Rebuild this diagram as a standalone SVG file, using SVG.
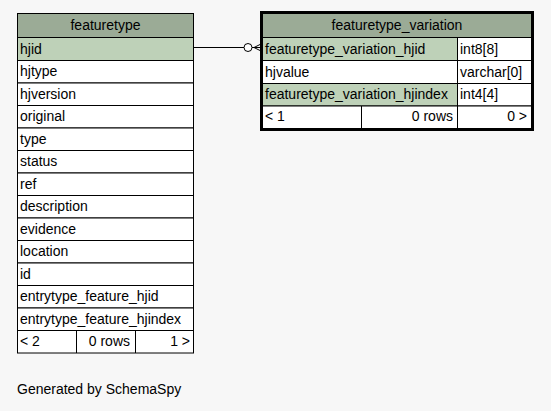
<svg xmlns="http://www.w3.org/2000/svg" width="551" height="411" viewBox="0 0 551 411">
<style>
text{font-family:"Liberation Sans",Arial,sans-serif;font-size:14px;fill:#000}
.c{text-anchor:middle}
.r{text-anchor:end}
.h{fill:#9bab96;stroke:#000;stroke-width:1}
.k{fill:#bed1b8;stroke:#000;stroke-width:1}
.w{fill:#fff;stroke:#000;stroke-width:1}
.ln{stroke:#000;stroke-width:1;fill:none}
</style>
<rect width="551" height="411" fill="#f7f7f7"/>
<g id="connectors">
<line class="ln" x1="193" y1="47.5" x2="244" y2="47.5"/>
<circle cx="248" cy="47.5" r="4" fill="#fff" stroke="#000" stroke-width="1"/>
<path class="ln" d="M252 47.5 L262 47.5 M254 47.5 L262 43.5 M254 47.5 L262 51.5"/>
</g>
<g id="featuretype">
<rect class="h" x="17.5" y="13.5" width="176" height="24"/>
<text class="c" x="105.5" y="30">featuretype</text>
<rect class="k" x="17.5" y="37.5" width="176" height="23"/>
<text x="20" y="53.5">hjid</text>
<rect class="w" x="17.5" y="60.5" width="176" height="22.5"/>
<text x="20" y="76">hjtype</text>
<rect class="w" x="17.5" y="83" width="176" height="22.5"/>
<text x="20" y="98.5">hjversion</text>
<rect class="w" x="17.5" y="105.5" width="176" height="22.5"/>
<text x="20" y="121">original</text>
<rect class="w" x="17.5" y="128" width="176" height="22.5"/>
<text x="20" y="143.5">type</text>
<rect class="w" x="17.5" y="150.5" width="176" height="22.5"/>
<text x="20" y="166">status</text>
<rect class="w" x="17.5" y="173" width="176" height="22.5"/>
<text x="20" y="188.5">ref</text>
<rect class="w" x="17.5" y="195.5" width="176" height="22.5"/>
<text x="20" y="211">description</text>
<rect class="w" x="17.5" y="218" width="176" height="22.5"/>
<text x="20" y="233.5">evidence</text>
<rect class="w" x="17.5" y="240.5" width="176" height="22.5"/>
<text x="20" y="256">location</text>
<rect class="w" x="17.5" y="263" width="176" height="22.5"/>
<text x="20" y="278.5">id</text>
<rect class="w" x="17.5" y="285.5" width="176" height="22.5"/>
<text x="20" y="301">entrytype_feature_hjid</text>
<rect class="w" x="17.5" y="308" width="176" height="22.5"/>
<text x="20" y="323.5">entrytype_feature_hjindex</text>
<rect class="w" x="17.5" y="330.5" width="176" height="22.5"/>
<line class="ln" x1="76.5" y1="330.5" x2="76.5" y2="353"/>
<line class="ln" x1="135.5" y1="330.5" x2="135.5" y2="353"/>
<text x="20" y="346">&lt; 2</text>
<text class="r" x="130" y="346">0 rows</text>
<text class="r" x="190" y="346">1 &gt;</text>
</g>
<g id="featuretype_variation">
<rect class="h" x="262.5" y="13.5" width="269" height="24"/>
<text class="c" x="397" y="30">featuretype_variation</text>
<rect class="k" x="262.5" y="37.5" width="195" height="23"/>
<rect class="w" x="457.5" y="37.5" width="74" height="23"/>
<text x="265" y="53.5">featuretype_variation_hjid</text>
<text x="460" y="53.5">int8[8]</text>
<rect class="w" x="262.5" y="60.5" width="195" height="23"/>
<rect class="w" x="457.5" y="60.5" width="74" height="23"/>
<text x="265" y="76.5">hjvalue</text>
<text x="460" y="76.5">varchar[0]</text>
<rect class="k" x="262.5" y="83.5" width="195" height="22.5"/>
<rect class="w" x="457.5" y="83.5" width="74" height="22.5"/>
<text x="265" y="99">featuretype_variation_hjindex</text>
<text x="460" y="99">int4[4]</text>
<rect class="w" x="262.5" y="106" width="269" height="22.5"/>
<line class="ln" x1="361.5" y1="106" x2="361.5" y2="128.5"/>
<line class="ln" x1="457.5" y1="106" x2="457.5" y2="128.5"/>
<text x="265" y="121">&lt; 1</text>
<text class="r" x="453" y="121">0 rows</text>
<text class="r" x="527" y="121">0 &gt;</text>
<rect x="261.5" y="12.5" width="271" height="117" fill="none" stroke="#000" stroke-width="3"/>
</g>
<text x="17" y="394">Generated by SchemaSpy</text>
</svg>
